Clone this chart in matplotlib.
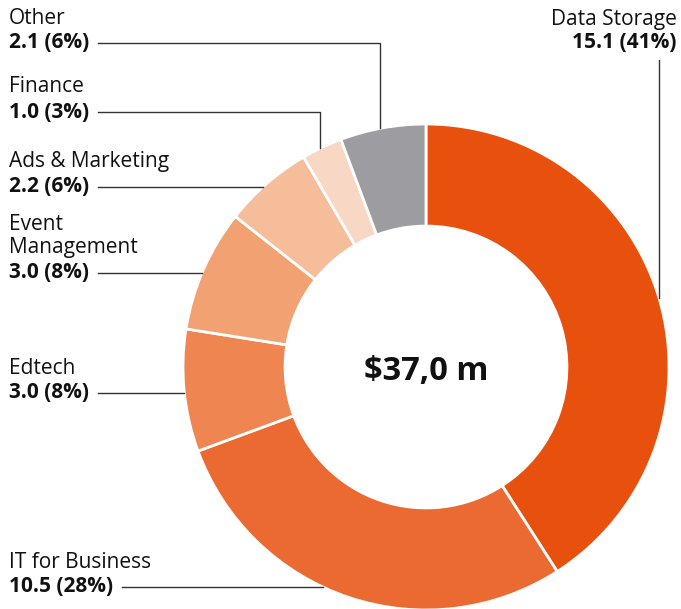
import numpy as np
import matplotlib
matplotlib.use("Agg")
import matplotlib.pyplot as plt

plt.rcParams['font.family'] = ['Open Sans', 'DejaVu Sans']

# data (clockwise from 12 o'clock)
names = ['Data Storage', 'IT for Business', 'Edtech', 'Event\nManagement',
         'Ads & Marketing', 'Finance', 'Other']
values = [15.1, 10.5, 3.0, 3.0, 2.2, 1.0, 2.1]
shares = [41, 28, 8, 8, 6, 3, 6]
colors = ['#E8500E', '#EB6A31', '#EF8550', '#F2A172', '#F5BD99', '#F8D7C4', '#9D9CA1']
total_label = '$37,0 m'

W, H = 681, 609
fig = plt.figure(figsize=(W / 100, H / 100), dpi=100)
ax = fig.add_axes([0, 0, 1, 1])

cx, cy, R = 426, H - 367, 243
ax.pie(values, colors=colors, startangle=90, counterclock=False,
       center=(cx, cy), radius=R, frame=True,
       wedgeprops=dict(width=R * 0.42, edgecolor='white', linewidth=2))
ax.set_xlim(0, W)
ax.set_ylim(0, H)
ax.set_aspect('equal')
ax.axis('off')

ax.text(cx, H - 372, total_label, ha='center', va='center',
        fontsize=23.5, fontweight='bold', color='#111111')

line_kw = dict(color='#333333', linewidth=1)
fs = 15
gap = 24


def circle_x(y):
    return cx - np.sqrt(R ** 2 - (y - cy) ** 2)


# left side labels: (index, value line y in px, elbow x or None)
left = [(6, 43, 380), (5, 112, 320), (4, 187, None), (3, 273, None),
        (2, 393, None), (1, 587, None)]
fig.canvas.draw()
for i, ypx, elbow in left:
    y = H - ypx
    val = f'{values[i]:.1f} ({shares[i]}%)'
    t = ax.text(9, y, val, ha='left', va='center', fontsize=fs,
                fontweight='bold', color='#111111')
    parts = names[i].split('\n')
    for k, part in enumerate(parts):
        ax.text(9, y + gap * (len(parts) - k) + 1, part, ha='left', va='center',
                fontsize=fs, color='#111111')
    bb = t.get_window_extent(renderer=fig.canvas.get_renderer())
    x0 = bb.x1 + 9
    if elbow is not None:
        yend = cy + np.sqrt(R ** 2 - (elbow - cx) ** 2)
        ax.plot([x0, elbow, elbow], [y, y, yend], **line_kw)
    else:
        ax.plot([x0, circle_x(y)], [y, y], **line_kw)

# Data Storage on the right
ax.text(677, H - 19, names[0], ha='right', va='center', fontsize=fs, color='#111111')
ax.text(677, H - 43, f'{values[0]:.1f} ({shares[0]}%)', ha='right', va='center',
        fontsize=fs, fontweight='bold', color='#111111')
xr = 659
ax.plot([xr, xr], [H - 60, cy + np.sqrt(R ** 2 - (xr - cx) ** 2)], **line_kw)

fig.savefig('out.png', dpi=100)
